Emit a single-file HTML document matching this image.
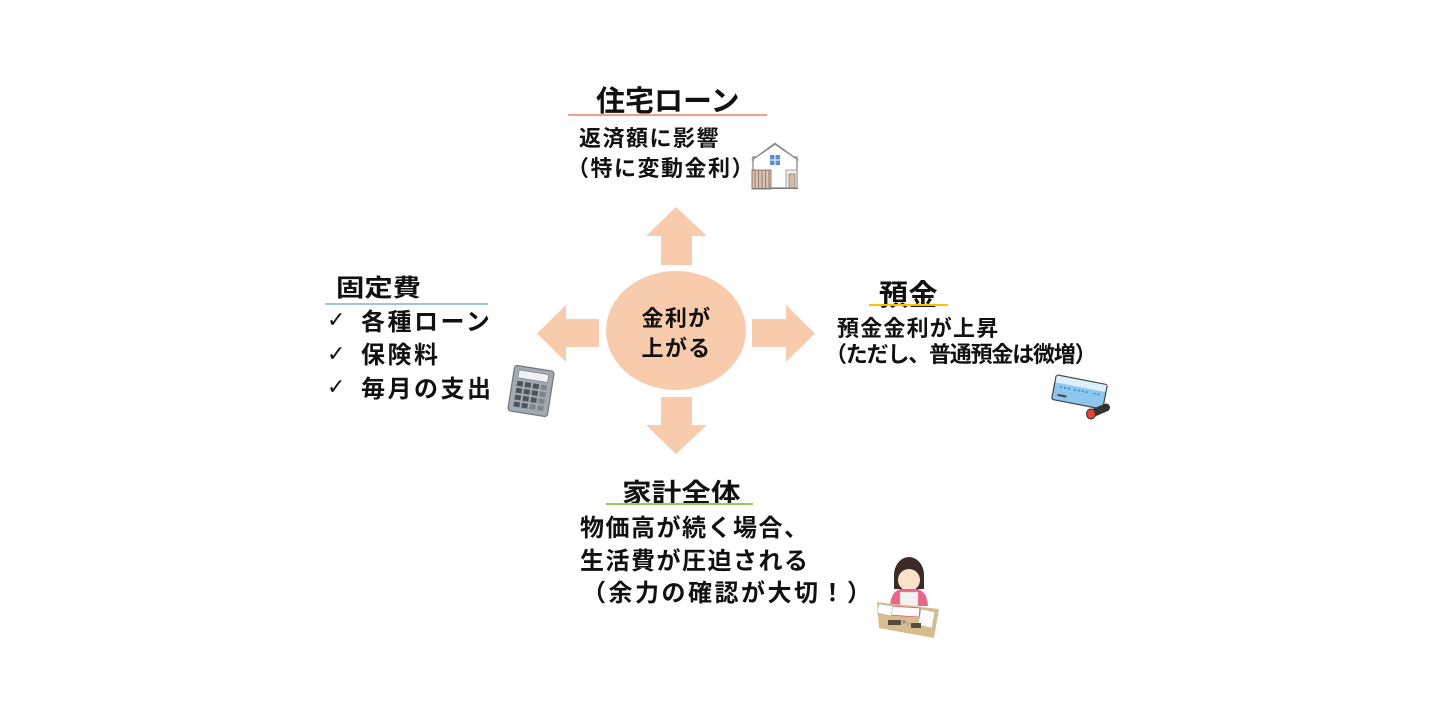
<!DOCTYPE html>
<html><head><meta charset="utf-8">
<style>
html,body{margin:0;padding:0;background:#fff;}
body{width:1433px;height:706px;position:relative;overflow:hidden;}
.t{position:absolute;white-space:nowrap;line-height:1;font-family:"Liberation Sans","Noto Sans CJK JP",sans-serif;font-weight:bold;color:#111;}
.ck{position:absolute;font-family:"DejaVu Sans",sans-serif;font-size:22px;font-weight:bold;line-height:1;color:#111;}
.ul{position:absolute;height:2px;}
svg{position:absolute;left:0;top:0;}
</style></head>
<body>
<svg width="1433" height="706" viewBox="0 0 1433 706">
  <g fill="#F8CBAD">
    <polygon points="676,207 707,236 692,236 692,265 661,265 661,236 646,236"/>
    <polygon points="661,397 692,397 692,425 707,425 676,454 646,425 661,425"/>
    <polygon points="537,333.5 566,305 566,319 599,319 599,347 566,347 566,362"/>
    <polygon points="752,319 786,319 786,305 815,333.5 786,362 786,347 752,347"/>
    <ellipse cx="676" cy="330.5" rx="70" ry="59.5"/>
  </g>

  <!-- house -->
  <g>
    <rect x="753" y="157" width="44" height="31" fill="#fff" stroke="#8a8a8a" stroke-width="1.3"/>
    <polygon points="751,160 775,142.5 799,160 797,161 775,145 753,161" fill="#8a8a8a"/>
    <polygon points="753,160 775,145 797,160" fill="#fff"/>
    <rect x="770" y="155" width="10" height="10" fill="#5B8FD0"/>
    <line x1="775" y1="155" x2="775" y2="165" stroke="#fff" stroke-width="1"/>
    <line x1="770" y1="160" x2="780" y2="160" stroke="#fff" stroke-width="1"/>
    <rect x="752" y="170" width="19" height="19" fill="#D9C2B3" stroke="#7a6356" stroke-width="0.8"/>
    <g stroke="#8B6A5A" stroke-width="0.8">
      <line x1="755" y1="170" x2="755" y2="189"/><line x1="758.5" y1="170" x2="758.5" y2="189"/>
      <line x1="762" y1="170" x2="762" y2="189"/><line x1="765.5" y1="170" x2="765.5" y2="189"/>
      <line x1="769" y1="170" x2="769" y2="189"/>
    </g>
    <rect x="786" y="170" width="11" height="18" fill="#eee" stroke="#8a8a8a" stroke-width="0.8"/>
    <rect x="789" y="174" width="6" height="14" fill="#D4BCAC" stroke="#7a6356" stroke-width="0.6"/>
    <line x1="752" y1="188.5" x2="798" y2="188.5" stroke="#777" stroke-width="1"/>
  </g>

  <!-- calculator -->
  <g transform="translate(531,391) rotate(9)">
    <rect x="-20" y="-23" width="40" height="46" rx="3" fill="#A3ABB2" stroke="#6E767C" stroke-width="1.2"/>
    <rect x="-15" y="-19" width="30" height="8" fill="#EEF2F4" stroke="#6E767C" stroke-width="0.6"/>
    <g fill="#4E555A">
      <rect x="-15" y="-8" width="6" height="5"/><rect x="-7" y="-8" width="6" height="5"/><rect x="1" y="-8" width="6" height="5"/><rect x="9" y="-8" width="6" height="5" fill="#7d858a"/>
      <rect x="-15" y="-1" width="6" height="5"/><rect x="-7" y="-1" width="6" height="5"/><rect x="1" y="-1" width="6" height="5"/><rect x="9" y="-1" width="6" height="5" fill="#7d858a"/>
      <rect x="-15" y="6" width="6" height="5"/><rect x="-7" y="6" width="6" height="5"/><rect x="1" y="6" width="6" height="5"/><rect x="9" y="6" width="6" height="5" fill="#7d858a"/>
      <rect x="-15" y="13" width="6" height="5"/><rect x="-7" y="13" width="6" height="5"/><rect x="1" y="13" width="6" height="5" fill="#7d858a"/><rect x="9" y="13" width="6" height="5" fill="#7d858a"/>
    </g>
  </g>

  <!-- card -->
  <g transform="translate(1079.5,392) rotate(11)">
    <rect x="-26" y="-12.5" width="52" height="25" rx="2" fill="#8EC7EE" stroke="#444" stroke-width="1.2"/>
    <rect x="-25.4" y="-11.9" width="50.8" height="7" fill="#DDEFFB"/>
    <g fill="#3D7FB8">
      <rect x="-20" y="-2" width="2" height="1.5"/><rect x="-16" y="-2" width="2" height="1.5"/><rect x="-12" y="-2" width="2" height="1.5"/>
      <rect x="-6" y="-2" width="2" height="1.5"/><rect x="-2" y="-2" width="2" height="1.5"/><rect x="2" y="-2" width="2" height="1.5"/><rect x="6" y="-2" width="2" height="1.5"/>
      <rect x="14" y="-2" width="2" height="1.5"/><rect x="18" y="-2" width="2" height="1.5"/>
    </g>
    <rect x="-21" y="6" width="9" height="2" fill="#444"/>
  </g>
  <line x1="1092" y1="413.5" x2="1106" y2="407.5" stroke="#333" stroke-width="8" stroke-linecap="round"/>
  <ellipse cx="1091" cy="414" rx="4.5" ry="5" fill="#E8413A" stroke="#333" stroke-width="1"/>

  <!-- girl -->
  <g>
    <ellipse cx="909" cy="575" rx="15" ry="18" fill="#3B2A26"/>
    <rect x="894" y="575" width="30" height="14" fill="#3B2A26"/>
    <ellipse cx="909" cy="580" rx="11" ry="11" fill="#FCE1CC"/>
    <path d="M898 573 Q909 562 921 573 L921 568 Q909 556 897 568 Z" fill="#3B2A26"/>
    <path d="M890 606 Q891 590 902 589 L916 589 Q927 590 928 606 Z" fill="#E8668A"/>
    <path d="M900 606 L900 592 L918 592 L918 606 Z" fill="#F2F2F2" stroke="#bbb" stroke-width="0.5"/>
    <polygon points="877,602 939,609 934,638 879,628" fill="#D9BC8E"/>
    <polygon points="889,606 920,608 919,617 888,615" fill="#fff" stroke="#d06080" stroke-width="0.8"/>
    <polygon points="879,604 893,606 891,616 877,613" fill="#fff" stroke="#aaa" stroke-width="0.5"/>
    <polygon points="921,609 935,612 932,628 918,625" fill="#fff" stroke="#aaa" stroke-width="0.5"/>
    <rect x="888" y="620" width="13" height="5" fill="#5a4a44"/>
    <rect x="911" y="623" width="10" height="5" fill="#5a4a44"/>
    <circle cx="904" cy="622" r="1.6" fill="#889"/><circle cx="908" cy="624" r="1.6" fill="#aab"/>
  </g>
</svg>

<!-- top -->
<div class="t" style="left:596px;top:88px;font-size:29px;">住宅ローン</div>
<div class="ul" style="left:568px;top:114px;width:199px;background:#F0A08A;"></div>
<div class="t" style="left:579px;top:128px;font-size:22px;letter-spacing:1.5px;">返済額に影響</div>
<div class="t" style="left:567px;top:158px;font-size:22px;letter-spacing:1.5px;">（特に変動金利）</div>

<!-- center -->
<div class="t" style="left:606px;top:308px;width:141px;text-align:center;font-size:22px;letter-spacing:1.3px;">金利が</div>
<div class="t" style="left:606px;top:338px;width:141px;text-align:center;font-size:22px;letter-spacing:1.3px;">上がる</div>

<!-- left -->
<div class="t" style="left:336px;top:277px;font-size:24px;transform:scaleX(1.18);transform-origin:0 0;">固定費</div>
<div class="ul" style="left:325px;top:303px;width:163px;background:#9DC3E6;"></div>
<div class="ck" style="left:327px;top:310px;">✓</div>
<div class="ck" style="left:327px;top:344px;">✓</div>
<div class="ck" style="left:327px;top:377px;">✓</div>
<div class="t" style="left:361px;top:311px;font-size:24px;letter-spacing:2.5px;">各種ローン</div>
<div class="t" style="left:361px;top:344px;font-size:24px;letter-spacing:2.5px;">保険料</div>
<div class="t" style="left:361px;top:378px;font-size:24px;letter-spacing:2.5px;">毎月の支出</div>

<!-- right -->
<div class="t" style="left:879px;top:282px;font-size:29px;letter-spacing:0.5px;">預金</div>
<div class="ul" style="left:869px;top:304px;width:79px;background:#FFC000;"></div>
<div class="t" style="left:837px;top:318px;font-size:22px;letter-spacing:1.2px;">預金金利が上昇</div>
<div class="t" style="left:825px;top:344px;font-size:22px;letter-spacing:-1.2px;">（ただし、普通預金は微増）</div>

<!-- bottom -->
<div class="t" style="left:622px;top:480px;font-size:26px;transform:scaleX(1.14);transform-origin:0 0;">家計全体</div>
<div class="ul" style="left:606px;top:503px;width:147px;background:#92D050;"></div>
<div class="t" style="left:580px;top:517px;font-size:24px;letter-spacing:1.5px;">物価高が続く場合、</div>
<div class="t" style="left:580px;top:550px;font-size:24px;letter-spacing:1.5px;">生活費が圧迫される</div>
<div class="t" style="left:582px;top:582px;font-size:24px;letter-spacing:2.5px;">（余力の確認が大切！）</div>
</body></html>
